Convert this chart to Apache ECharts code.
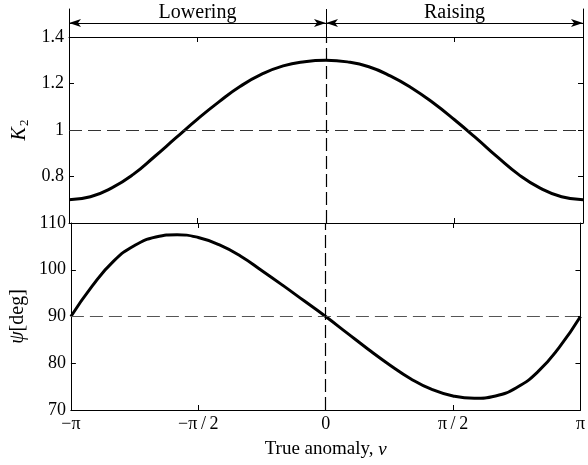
<!DOCTYPE html>
<html>
<head>
<meta charset="utf-8">
<script src="https://cdn.jsdelivr.net/npm/echarts@6/dist/echarts.min.js"></script>
<style>
html,body{margin:0;padding:0;background:#fff;}
#chart{width:588px;height:465px;}
</style>
</head>
<body>
<div id="chart"></div>
<script>
// true anomaly in units of pi
const nuOverPi = [-1, -0.9167, -0.8333, -0.75, -0.6667, -0.5833, -0.5, -0.4167, -0.3333, -0.25, -0.1667, -0.0833, 0,
  0.0833, 0.1667, 0.25, 0.3333, 0.4167, 0.5, 0.5833, 0.6667, 0.75, 0.8333, 0.9167, 1];
const K2 = [0.700, 0.713, 0.751, 0.809, 0.886, 0.967, 1.047, 1.121, 1.188, 1.240, 1.276, 1.294, 1.300,
  1.293, 1.272, 1.233, 1.181, 1.117, 1.044, 0.966, 0.884, 0.808, 0.750, 0.713, 0.700];
const psiDeg = [90, 96.5, 101.8, 105.2, 107.0, 107.5, 106.9, 105.3, 102.9, 99.8, 96.6, 93.3, 90,
  86.5, 83.0, 79.7, 76.7, 74.4, 73.0, 72.5, 73.0, 74.8, 78.2, 83.4, 90];
const xTickValues = [-1, -0.5, 0, 0.5, 1];
const xTickLabels = ['\u2212\u03c0', '\u2212\u03c0\u2009/\u20092', '0', '\u03c0\u2009/\u20092', '\u03c0'];
const regions = [
  {name: 'Lowering', from: -1, to: 0},
  {name: 'Raising', from: 0, to: 1}
];
const K2Ref = 1;
const psiRef = 90;

const FONT = '"Liberation Serif", "Times New Roman", serif';
const chart = echarts.init(document.getElementById('chart'), null, {renderer: 'canvas'});

function xLabel(v) {
  for (let i = 0; i < xTickValues.length; i++) {
    if (Math.abs(xTickValues[i] - v) < 1e-6) return xTickLabels[i];
  }
  return '';
}
const axLine = {show: true, onZero: false, lineStyle: {color: '#000', width: 1}};
const inTick = {show: true, inside: true, length: 5, lineStyle: {color: '#000', width: 1}};

function xAx(grid, pos, showLabel) {
  return {
    type: 'value', gridIndex: grid, position: pos, min: -1, max: 1, interval: 0.5,
    axisLine: axLine, axisTick: inTick, splitLine: {show: false},
    axisLabel: {show: showLabel, formatter: xLabel, fontFamily: FONT, fontSize: 18, color: '#000', margin: 5}
  };
}

const option = {
  backgroundColor: '#fff',
  animation: false,
  grid: [
    {left: 69, right: 5, top: 9, height: 28},
    {left: 69, right: 5, top: 37, height: 186},
    {left: 69, right: 5, top: 223, height: 187}
  ],
  xAxis: [
    {type: 'value', gridIndex: 0, min: -1, max: 1, show: false},
    xAx(1, 'bottom', false),
    xAx(1, 'top', false),
    Object.assign(xAx(2, 'bottom', true), {
      name: '{r|True anomaly, }{i|\u03bd}', nameLocation: 'middle', nameGap: 30,
      nameTextStyle: {rich: {
        r: {fontFamily: FONT, fontSize: 19, color: '#000'},
        i: {fontFamily: FONT, fontSize: 19, color: '#000', fontStyle: 'italic'}
      }}
    }),
    xAx(2, 'top', false)
  ],
  yAxis: [
    {type: 'value', gridIndex: 0, min: 0, max: 1, position: 'left', axisLine: axLine, axisTick: {show: false}, axisLabel: {show: false}, splitLine: {show: false}},
    {type: 'value', gridIndex: 0, min: 0, max: 1, position: 'right', axisLine: axLine, axisTick: {show: false}, axisLabel: {show: false}, splitLine: {show: false}},
    {type: 'value', gridIndex: 1, min: 0.6, max: 1.4, interval: 0.2, position: 'left',
      axisLine: axLine, axisTick: inTick, splitLine: {show: false},
      axisLabel: {showMinLabel: false, fontFamily: FONT, fontSize: 18, color: '#000', margin: 5},
      name: '{i|K}{s|2}', nameLocation: 'middle', nameGap: 36, nameRotate: 90,
      nameTextStyle: {rich: {
        i: {fontFamily: FONT, fontSize: 20, fontStyle: 'italic', color: '#000'},
        s: {fontFamily: FONT, fontSize: 13, color: '#000', verticalAlign: 'bottom', padding: [9, 0, 0, 1]}
      }}
    },
    {type: 'value', gridIndex: 1, min: 0.6, max: 1.4, interval: 0.2, position: 'right',
      axisLine: axLine, axisTick: inTick, axisLabel: {show: false}, splitLine: {show: false}},
    {type: 'value', gridIndex: 2, min: 70, max: 110, interval: 10, position: 'left',
      axisLine: axLine, axisTick: inTick, splitLine: {show: false},
      axisLabel: {fontFamily: FONT, fontSize: 18, color: '#000', margin: 5},
      name: '{i|\u03c8}{r|[deg]}', nameLocation: 'middle', nameGap: 36, nameRotate: 90,
      nameTextStyle: {rich: {
        i: {fontFamily: FONT, fontSize: 20, fontStyle: 'italic', color: '#000'},
        r: {fontFamily: FONT, fontSize: 20, color: '#000'}
      }}
    },
    {type: 'value', gridIndex: 2, min: 70, max: 110, interval: 10, position: 'right',
      axisLine: axLine, axisTick: inTick, axisLabel: {show: false}, splitLine: {show: false}}
  ],
  series: [
    {
      type: 'line', xAxisIndex: 0, yAxisIndex: 0, data: [], silent: true,
      markLine: {
        silent: true, animation: false,
        symbol: ['arrow', 'arrow'], symbolSize: [6, 12],
        lineStyle: {color: '#000', width: 1, type: 'solid'},
        label: {show: true, position: 'insideMiddleTop', distance: 0, fontFamily: FONT, fontSize: 20, color: '#000'},
        data: regions.map(r => [
          {coord: [r.from, 0.5], name: r.name, label: {formatter: r.name}},
          {coord: [r.to, 0.5]}
        ]).concat([[
          {coord: [0, 0], symbol: 'none', label: {show: false}},
          {coord: [0, 1], symbol: 'none'}
        ]])
      }
    },
    {
      type: 'line', xAxisIndex: 1, yAxisIndex: 2, smooth: true, showSymbol: false, silent: true,
      lineStyle: {color: '#000', width: 3},
      data: nuOverPi.map((x, i) => [x, K2[i]]),
      markLine: {
        silent: true, symbol: 'none', animation: false, label: {show: false},
        data: [
          {yAxis: K2Ref, lineStyle: {color: '#333', width: 1.2, type: [13, 6]}},
          {xAxis: 0, lineStyle: {color: '#000', width: 1.2, type: [13, 5]}}
        ]
      }
    },
    {
      type: 'line', xAxisIndex: 3, yAxisIndex: 4, smooth: true, showSymbol: false, silent: true,
      lineStyle: {color: '#000', width: 3},
      data: nuOverPi.map((x, i) => [x, psiDeg[i]]),
      markLine: {
        silent: true, symbol: 'none', animation: false, label: {show: false},
        data: [
          {yAxis: psiRef, lineStyle: {color: '#555', width: 1.2, type: [13, 6]}},
          {xAxis: 0, lineStyle: {color: '#000', width: 1.2, type: [13, 5]}}
        ]
      }
    }
  ]
};
chart.setOption(option);
</script>
</body>
</html>
